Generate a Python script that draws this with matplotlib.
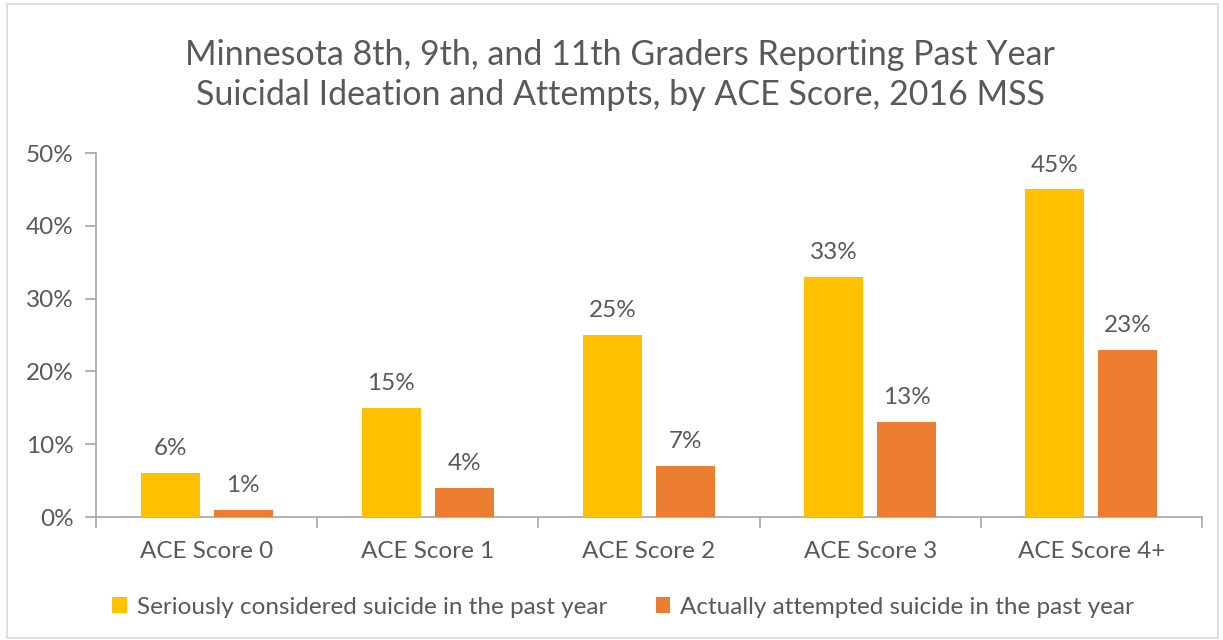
import matplotlib
matplotlib.use("Agg")
import matplotlib.pyplot as plt
from matplotlib.patches import Rectangle
from matplotlib.ticker import FuncFormatter

categories = ["ACE Score 0", "ACE Score 1", "ACE Score 2", "ACE Score 3", "ACE Score 4+"]
considered = [6, 15, 25, 33, 45]
attempted = [1, 4, 7, 13, 23]
series_names = ["Seriously considered suicide in the past year",
                "Actually attempted suicide in the past year"]
title = "Minnesota 8th, 9th, and 11th Graders Reporting Past Year\nSuicidal Ideation and Attempts, by ACE Score, 2016 MSS"

plt.rcParams['font.family'] = ['Lato', 'DejaVu Sans']
TXT = "#595959"
AX = "#A6A6A6"
YEL = "#FFC000"
ORA = "#ED7D31"
FS = 17.5

fig = plt.figure(figsize=(12.23, 6.4), dpi=100)
fig.patches.append(Rectangle((0.006, 0.003), 0.99, 0.99, transform=fig.transFigure,
                             fill=False, edgecolor="#D9D9D9", linewidth=1.2))
ax = fig.add_axes([96/1223, 1-517/640, (1202-96)/1223, (517-153)/640])

x = list(range(len(categories)))
w = 0.267
off = 0.165
b1 = ax.bar([i - off for i in x], considered, width=w, color=YEL, label=series_names[0], zorder=3)
b2 = ax.bar([i + off for i in x], attempted, width=w, color=ORA, label=series_names[1], zorder=3)

for bars, vals in ((b1, considered), (b2, attempted)):
    for rect, v in zip(bars, vals):
        ax.annotate(f"{v}%", (rect.get_x() + rect.get_width()/2, v),
                    xytext=(0, 10), textcoords="offset points",
                    ha="center", va="bottom", fontsize=FS, color=TXT)

ax.set_xlim(-0.5, len(categories) - 0.5)
ax.set_ylim(0, 50)
ax.set_yticks([0, 10, 20, 30, 40, 50])
ax.yaxis.set_major_formatter(FuncFormatter(lambda v, p: f"{int(v)}%"))
ax.set_xticks(x)
ax.set_xticklabels(categories)
ax.set_xticks([i - 0.5 for i in range(len(categories) + 1)], minor=True)
ax.tick_params(axis='x', which='major', length=0, pad=17, labelsize=FS, labelcolor=TXT)
ax.tick_params(axis='x', which='minor', length=8, color=AX, width=1.2)
ax.tick_params(axis='y', length=8, color=AX, width=1.2, pad=8, labelsize=FS, labelcolor=TXT)

for s in ("top", "right"):
    ax.spines[s].set_visible(False)
for s in ("left", "bottom"):
    ax.spines[s].set_color(AX)
    ax.spines[s].set_linewidth(1.2)

fig.text(620/1223, 1-75/640, title, ha="center", va="center", fontsize=24.5,
         color=TXT, linespacing=1.33)

leg = fig.legend(handles=[b1, b2], loc="center", bbox_to_anchor=(623/1223, 1-607/640),
                 ncol=2, frameon=False, fontsize=FS, labelcolor=TXT,
                 handlelength=0.6, handleheight=0.6, handletextpad=0.4, columnspacing=2.0)

fig.savefig("out.png", dpi=100)
